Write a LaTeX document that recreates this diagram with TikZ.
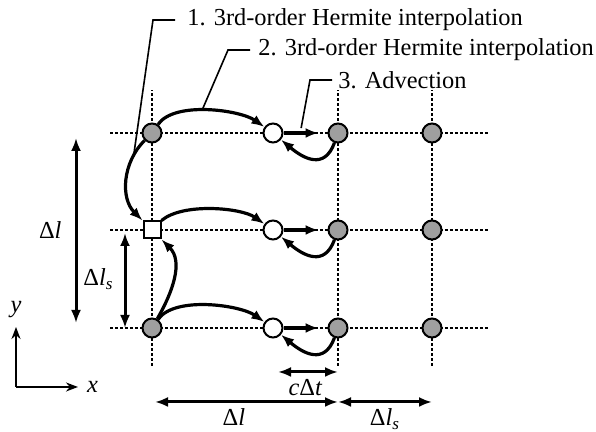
\documentclass[tikz,border=0pt]{standalone}
\usepackage{fontspec}
\setmainfont{Liberation Serif}
\usetikzlibrary{arrows.meta}

\begin{document}
\begin{tikzpicture}[x=0.5pt, y=0.5pt, font=\fontsize{12.2}{14}\selectfont,
        gridline/.style={line width=0.75pt, dash pattern=on 1.6pt off 0.9pt},
        grid/.style={circle, draw, line width=1pt, fill=gray!75, minimum size=9.5pt, inner sep=0pt},
        mid/.style={circle, draw, line width=1pt, fill=white, minimum size=9.5pt, inner sep=0pt},
        src/.style={rectangle, draw, line width=1pt, fill=white, minimum size=8.5pt, inner sep=0pt},
        flow/.style={line width=1.6pt, -{Latex[length=6.5pt,width=5pt]}},
        dim/.style={line width=1.5pt, {Latex[length=6.5pt,width=5pt]}-{Latex[length=6.5pt,width=5pt]}},
        axis/.style={line width=1pt, -{Stealth[length=6pt,width=4.5pt]}},
        leader/.style={line width=0.8pt},
        lbl/.style={inner sep=0pt}]
    \useasboundingbox (0,0) rectangle (596,432);
    % dashed grid
    \foreach \y in {104,202,299} {
        \draw[gridline] (110,\y) -- (488,\y);
    }
    \foreach \x in {152,338,432} {
        \draw[gridline] (\x,66) -- (\x,342);
    }
    % points
    \node[grid] (a1) at (152,299) {};
    \node[src] (s2) at (152,202) {};
    \node[grid] (a3) at (152,104) {};
    \foreach \y/\r in {299/1, 202/2, 104/3} {
        \node[mid] (m\r) at (273,\y) {};
        \node[grid] (b\r) at (338,\y) {};
        \node[grid] (c\r) at (432,\y) {};
    }
    % 1. interpolation along y
    \draw[flow] (a1) to[out=-135, in=135] coordinate[pos=0.2] (h1) (s2.north west);
    \draw[flow] (a3) to[out=60, in=-45] (s2.south east);
    % 2. interpolation along x
    \draw[flow] (a1) to[out=55, in=145, looseness=0.7] coordinate[pos=0.45] (h2) (m1);
    \draw[flow] (s2.north east) to[out=40, in=145, looseness=0.7] (m2);
    \draw[flow] (a3) to[out=55, in=145, looseness=0.7] (m3);
    % 3. advection
    \foreach \r in {1,2,3} {
        \draw[flow, shorten >=4.5pt] (m\r) -- coordinate[pos=0.38] (v\r) (b\r);
        \draw[flow] (b\r) to[out=-110, in=-40, looseness=1.4] (m\r);
    }
    % step labels
    \node[lbl, anchor=west] (t1) at (187,412) {1. 3rd-order Hermite interpolation};
    \node[lbl, anchor=west] (t2) at (258,382) {2. 3rd-order Hermite interpolation};
    \node[lbl, anchor=west] (t3) at (338,352) {3. Advection};
    \draw[leader] (t1.west) ++(-12,0) -- ++(-22,0) -- (h1);
    \draw[leader] (t2.west) ++(-8,0) -- ++(-22,0) -- (h2);
    \draw[leader, shorten >=2.5pt] (t3.west) ++(-6,0) -- ++(-22,0) -- (v1);
    % spacings
    \coordinate (dl) at (76,0);
    \coordinate (ds) at (125,0);
    \coordinate (dt) at (0,60);
    \coordinate (dx) at (0,30);
    \draw[dim, shorten <=2.5pt, shorten >=2.5pt] (a1 -| dl) -- node[lbl, midway, left=6.5pt] {Δ\textit{l}} (a3 -| dl);
    \draw[dim, shorten <=1.5pt] (s2 -| ds) -- node[lbl, midway, left=5pt] {Δ\textit{l}\textsubscript{\textit{s}}} (a3 -| ds);
    \draw[dim, shorten <=2.5pt] (m3 |- dt) -- node[lbl, midway, below=3pt] {\textit{c}Δ\textit{t}} (b3 |- dt);
    \draw[dim, shorten <=1.5pt] (a3 |- dx) -- node[lbl, pos=0.44, below=2.5pt] {Δ\textit{l}} (b3 |- dx);
    \draw[dim] (b3 |- dx) -- node[lbl, midway, below=2.5pt] {Δ\textit{l}\textsubscript{\textit{s}}} (c3 |- dx);
    % axes
    \coordinate (o) at (16,45);
    \draw[axis] (o) -- ++(0,60) node[lbl, above=4pt] {\textit{y}};
    \draw[axis] (o) -- ++(62,0) node[lbl, right=4pt] {\textit{x}};
\end{tikzpicture}
\end{document}
